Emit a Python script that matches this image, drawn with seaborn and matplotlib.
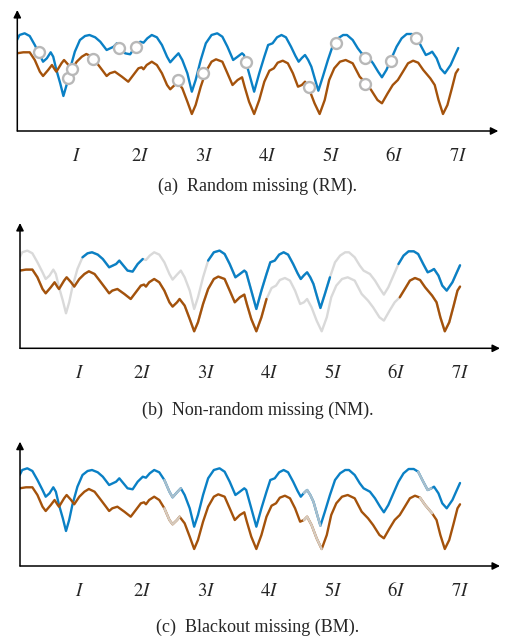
# three missing-data patterns on the same two series

import numpy as np
import pandas as pd
import matplotlib.pyplot as plt
import seaborn as sns

blue_x = [0.06, 0.10, 0.18, 0.26, 0.34, 0.42, 0.47, 0.53, 0.59, 0.63, 0.68, 0.74, 0.79, 0.84, 0.89, 0.97,
          1.05, 1.13, 1.20, 1.29, 1.37, 1.47, 1.58, 1.63, 1.76, 1.84, 1.92, 2.00, 2.05, 2.11, 2.18, 2.26,
          2.34, 2.42, 2.47, 2.54, 2.60, 2.66, 2.74, 2.81, 2.87, 2.95, 3.03, 3.12, 3.21, 3.29, 3.37, 3.46,
          3.53, 3.60, 3.63, 3.71, 3.79, 3.87, 3.95, 4.01, 4.08, 4.15, 4.22, 4.29, 4.37, 4.44, 4.49, 4.54,
          4.59, 4.64, 4.69, 4.75, 4.80, 4.87, 4.95, 5.03, 5.11, 5.19, 5.25, 5.34, 5.42, 5.48, 5.58, 5.66,
          5.74, 5.80, 5.87, 5.95, 6.03, 6.11, 6.19, 6.27, 6.34, 6.42, 6.49, 6.55, 6.59, 6.66, 6.72, 6.79,
          6.88, 6.95, 7.00]
blue_y = [9.1, 9.6, 9.77, 9.5, 8.6, 7.6, 6.93, 7.27, 7.87, 7.43, 6.1, 4.77, 3.5, 4.6, 6.1, 7.93,
          9.1, 9.5, 9.6, 9.37, 8.93, 8.1, 8.43, 8.77, 7.77, 7.67, 8.43, 8.93, 8.83, 9.27, 9.6, 9.37,
          8.6, 7.43, 6.87, 7.37, 7.77, 7.1, 5.77, 3.93, 5.1, 7.1, 8.77, 9.6, 9.77, 9.43, 8.43, 7.1,
          7.43, 7.77, 7.6, 5.77, 3.93, 5.77, 7.43, 8.6, 8.77, 9.37, 9.6, 9.37, 8.43, 7.5, 6.93, 7.3,
          7.6, 7.1, 6.43, 5.1, 4.03, 5.43, 7.1, 8.6, 9.27, 9.6, 9.6, 9.1, 8.27, 7.77, 7.43, 6.77,
          5.93, 5.37, 6.1, 7.27, 8.43, 9.27, 9.7, 9.7, 9.43, 8.43, 7.6, 7.77, 7.93, 7.27, 6.27, 5.77,
          6.6, 7.6, 8.3]

brown_x = [0.06, 0.16, 0.26, 0.34, 0.42, 0.47, 0.55, 0.61, 0.66, 0.68, 0.76, 0.80, 0.87, 0.92, 1.00,
           1.08, 1.15, 1.24, 1.32, 1.42, 1.47, 1.52, 1.60, 1.71, 1.81, 1.89, 1.97, 2.02, 2.05, 2.10,
           2.18, 2.26, 2.34, 2.42, 2.47, 2.54, 2.58, 2.66, 2.74, 2.81, 2.87, 2.95, 3.03, 3.12, 3.19,
           3.29, 3.37, 3.45, 3.53, 3.60, 3.64, 3.71, 3.79, 3.87, 3.95, 4.03, 4.10, 4.16, 4.24, 4.32,
           4.40, 4.48, 4.54, 4.59, 4.66, 4.74, 4.82, 4.90, 4.97, 5.05, 5.14, 5.23, 5.34, 5.45, 5.55,
           5.63, 5.73, 5.80, 5.89, 5.97, 6.05, 6.13, 6.21, 6.29, 6.37, 6.45, 6.56, 6.63, 6.69, 6.76,
           6.83, 6.90, 6.96, 7.00]
brown_y = [7.77, 7.87, 7.87, 7.1, 5.93, 5.5, 6.1, 6.6, 6.1, 5.93, 6.77, 7.1, 6.6, 6.17, 6.93,
           7.43, 7.7, 7.43, 6.77, 5.93, 5.5, 5.77, 5.93, 5.43, 4.93, 5.6, 6.27, 6.37, 6.17, 6.6,
           6.93, 6.6, 5.77, 4.6, 4.17, 4.6, 4.93, 4.27, 2.93, 1.7, 2.6, 4.43, 5.93, 6.93, 7.17,
           6.93, 5.77, 4.6, 5.1, 5.37, 4.43, 2.93, 1.7, 3.1, 4.93, 6.03, 6.27, 6.83, 7.03, 6.77,
           5.77, 4.43, 4.6, 4.93, 4.1, 2.77, 1.7, 3.1, 5.1, 6.27, 6.93, 7.1, 6.77, 5.43, 4.77,
           4.1, 3.1, 2.77, 3.77, 4.6, 5.1, 5.93, 6.77, 7.03, 6.83, 6.1, 5.27, 4.6, 3.1, 1.7,
           2.6, 4.27, 5.77, 6.17]

# random missing: single missing observations
miss_x = [0.40, 0.87, 1.66, 1.93, 3.66, 5.07, 5.53, 5.95, 6.33, 0.92, 1.26, 2.60, 2.99, 4.66, 5.53]
miss_y = [7.87, 5.27, 8.33, 8.43, 6.93, 8.83, 7.27, 7.0, 9.27, 6.17, 7.17, 5.1, 5.77, 4.43, 4.67]

# non-random missing: observed windows (in units of I)
nm_blue_obs = [(1, 2), (3, 5), (6, 7)]
nm_brown_obs = [(0, 4), (6, 7)]

# blackout windows
bm_windows = [(2.32, 2.62), (4.52, 4.82), (6.34, 6.58)]

tick_pos = [1, 2, 3, 4, 5, 6, 7]
tick_labels = ['$I$', '$2I$', '$3I$', '$4I$', '$5I$', '$6I$', '$7I$']
captions = ['(a)  Random missing (RM).', '(b)  Non-random missing (NM).', '(c)  Blackout missing (BM).']

BLUE = '#0a80c5'
BROWN = '#a4520b'
GRAY = '#d9d9d9'
LBLUE = '#a9bfcc'
LBROWN = '#d6cbbf'
LW = 1.7

sns.set_style('white')
plt.rcParams['mathtext.fontset'] = 'stix'
plt.rcParams['font.family'] = ['Liberation Serif', 'DejaVu Serif']

blue = pd.DataFrame({'x': blue_x, 'y': blue_y})
brown = pd.DataFrame({'x': brown_x, 'y': brown_y})


def draw(ax, df, color, lo=None, hi=None):
    d = df
    if lo is not None:
        d = df[(df['x'] >= lo) & (df['x'] <= hi)]
    sns.lineplot(data=d, x='x', y='y', ax=ax, color=color, lw=LW, sort=False,
                 estimator=None, solid_capstyle='round', solid_joinstyle='round')


def setup(ax, ytop):
    ax.set_xlim(0.065, 7.63)
    ax.set_ylim(0, ytop)
    for s in ax.spines.values():
        s.set_visible(False)
    ax.set_xticks(tick_pos)
    ax.set_xticklabels(tick_labels, fontsize=13.5)
    for lbl in ax.get_xticklabels():
        lbl.set_verticalalignment('baseline')
    ax.set_yticks([])
    ax.tick_params(axis='x', direction='inout', length=8, width=0.9, color='#8a8a8a', pad=17.5)
    ax.set_xlabel('')
    ax.set_ylabel('')
    arrow = dict(arrowstyle='-|>', color='black', lw=1.1, mutation_scale=11, shrinkA=0, shrinkB=0)
    ax.annotate('', xy=(1, 0), xytext=(0, 0), xycoords='axes fraction', arrowprops=arrow)
    ax.annotate('', xy=(0, 1), xytext=(0, 0), xycoords='axes fraction', arrowprops=arrow)


fig = plt.figure(figsize=(5.16, 6.43), dpi=100)
ax1 = fig.add_axes([17.3 / 516, 1 - 131 / 643, 481 / 516, 121 / 643])
ax2 = fig.add_axes([20 / 516, 1 - 348.3 / 643, 480 / 516, 125.3 / 643])
ax3 = fig.add_axes([20 / 516, 1 - 566 / 643, 480 / 516, 124.3 / 643])

# (a)
draw(ax1, blue, BLUE)
draw(ax1, brown, BROWN)
sns.scatterplot(x=miss_x, y=miss_y, ax=ax1, s=62, color='white', edgecolor='#b8b8b8',
                linewidth=1.7, zorder=5)
setup(ax1, 12.1)

# (b)
draw(ax2, blue, GRAY)
draw(ax2, brown, GRAY)
for lo, hi in nm_blue_obs:
    draw(ax2, blue, BLUE, lo, hi)
for lo, hi in nm_brown_obs:
    draw(ax2, brown, BROWN, lo, hi)
setup(ax2, 12.53)

# (c)
draw(ax3, blue, BLUE)
draw(ax3, brown, BROWN)
for lo, hi in bm_windows:
    draw(ax3, blue, LBLUE, lo, hi)
    draw(ax3, brown, LBROWN, lo, hi)
setup(ax3, 12.43)

for cap, yy in zip(captions, [1 - 186 / 643, 1 - 410 / 643, 1 - 627 / 643]):
    fig.text(0.5, yy, cap, ha='center', va='center', fontsize=13)

plt.savefig('out.png', dpi=100)
